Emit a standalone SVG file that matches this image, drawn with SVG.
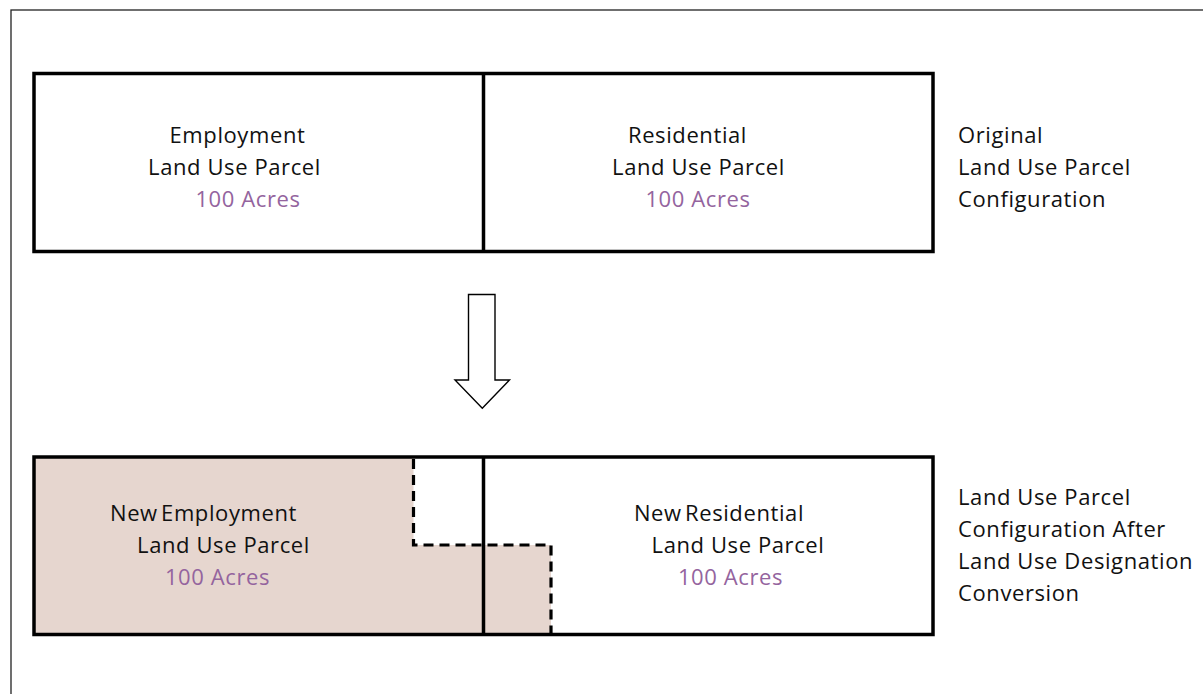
<svg xmlns="http://www.w3.org/2000/svg" width="1203" height="694" viewBox="0 0 1203 694">
<style>
text{font-family:"Open Sans","Noto Sans","DejaVu Sans",sans-serif;font-size:22px;fill:#111;letter-spacing:0.6px}
.c{text-anchor:middle}
.acres{fill:#94649E}
.box{fill:none;stroke:#000;stroke-width:3.5}
.dash{fill:none;stroke:#000;stroke-width:3.2;stroke-dasharray:10 6}
</style>
<rect width="1203" height="694" fill="#fff"/>
<rect x="11" y="10" width="1205" height="700" fill="none" stroke="#222" stroke-width="1.3"/>

<g id="top-employment">
<rect x="34" y="73.5" width="449.5" height="178" fill="#fff"/>
<text class="c" x="237.5" y="142.5">Employment</text>
<text class="c" x="234.5" y="174.5">Land Use Parcel</text>
<text class="c acres" x="248" y="206.5">100 Acres</text>
</g>
<g id="top-residential">
<text class="c" x="687.5" y="142.5">Residential</text>
<text class="c" x="698.5" y="174.5">Land Use Parcel</text>
<text class="c acres" x="698" y="206.5">100 Acres</text>
</g>
<g id="top-frame">
<rect class="box" x="34" y="73.5" width="899" height="178"/>
<line x1="483.5" y1="73.5" x2="483.5" y2="251.5" stroke="#000" stroke-width="3.5"/>
</g>
<g id="label-original">
<text x="958" y="142.5">Original</text>
<text x="958" y="174.5">Land Use Parcel</text>
<text x="958" y="206.5">Configuration</text>
</g>

<g id="connectors">
<path d="M468.5,294.5 H495 V380 H509.5 L482.3,408.3 L455,380 H468.5 Z" fill="#fff" stroke="#000" stroke-width="1.4" stroke-linejoin="miter"/>
</g>

<g id="bottom-employment">
<path d="M34,457 H413.5 V545 H551 V634.5 H34 Z" fill="#E6D6CF"/>
<text class="c" x="203.5" y="520.5" style="word-spacing:-3px">New Employment</text>
<text class="c" x="223.5" y="552.5">Land Use Parcel</text>
<text class="c acres" x="217.5" y="584.5">100 Acres</text>
</g>
<g id="bottom-residential">
<text class="c" x="719" y="520.5" style="word-spacing:-3px">New Residential</text>
<text class="c" x="738" y="552.5">Land Use Parcel</text>
<text class="c acres" x="730.5" y="584.5">100 Acres</text>
</g>
<g id="bottom-frame">
<rect class="box" x="34" y="457" width="899" height="177.5"/>
<line x1="483.5" y1="457" x2="483.5" y2="634.5" stroke="#000" stroke-width="3.5"/>
<path class="dash" d="M413.5,459 V545 H551 V633"/>
</g>
<g id="label-after">
<text x="958" y="504.5">Land Use Parcel</text>
<text x="958" y="536.5">Configuration After</text>
<text x="958" y="568.5">Land Use Designation</text>
<text x="958" y="600.5">Conversion</text>
</g>
</svg>
